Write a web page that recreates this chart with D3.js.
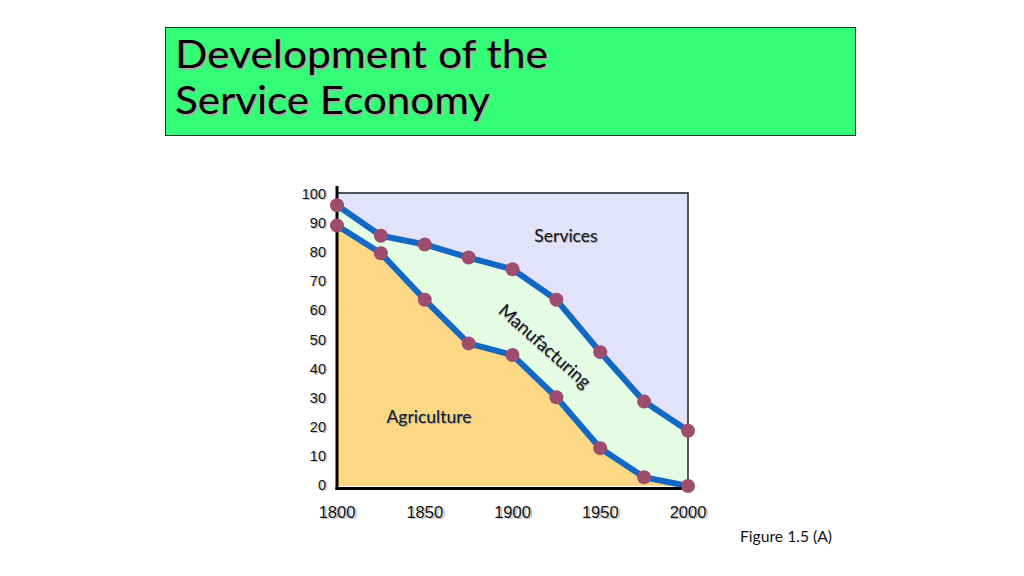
<!DOCTYPE html>
<html><head><meta charset="utf-8">
<script src="https://cdn.jsdelivr.net/npm/d3@7"></script>
<style>html,body{margin:0;padding:0;background:#fff;}svg{display:block;}</style>
</head><body>
<svg id="c" width="1024" height="576"></svg>
<script>
const years = [1800, 1825, 1850, 1875, 1900, 1925, 1950, 1975, 2000];
const agriculture = [89.5, 80, 64, 49, 45, 30.5, 13, 3, 0];
const agriManuf = [96.5, 86, 83, 78.5, 74.5, 64, 46, 29, 19];
const xTicks = [1800, 1850, 1900, 1950, 2000];
const yTicks = [0, 10, 20, 30, 40, 50, 60, 70, 80, 90, 100];
const titleLines = ["Development of the", "Service Economy"];
const titleWidths = [373, 315];
const areaLabels = ["Services", "Manufacturing", "Agriculture"];
const caption = "Figure 1.5 (A)";

const svg = d3.select("#c");
const x = d3.scaleLinear().domain([1800, 2000]).range([337, 688]);
const y = d3.scaleLinear().domain([0, 100]).range([486, 195]);
const F = "Lato, 'Open Sans', sans-serif";

// title box
svg.append("rect").attr("x", 165.5).attr("y", 27.5).attr("width", 690).attr("height", 108)
  .attr("fill", "#33fd77").attr("stroke", "#1d3a26").attr("stroke-width", 1);
titleLines.forEach((t, i) => {
  [["#a8a8a8", 1.5], ["#000", 0]].forEach(([c, o]) => {
    svg.append("text").attr("x", 175 + o).attr("y", 68 + i * 46 + o).attr("font-family", F).attr("font-size", 38)
      .attr("textLength", titleWidths[i]).attr("lengthAdjust", "spacingAndGlyphs")
      .attr("fill", c).text(t);
  });
});

const data = years.map((yr, i) => ({yr, a: agriculture[i], m: agriManuf[i]}));

// services area (background)
svg.append("rect").attr("x", x(1800)).attr("y", y(100) - 2).attr("width", x(2000) - x(1800))
  .attr("height", y(0) - y(100) + 2).attr("fill", "#e2e2fb");
// manufacturing
svg.append("path").datum(data).attr("fill", "#e3fce3")
  .attr("d", d3.area().x(d => x(d.yr)).y0(d => y(d.a)).y1(d => y(d.m)));
// agriculture
svg.append("path").datum(data).attr("fill", "#fdd884")
  .attr("d", d3.area().x(d => x(d.yr)).y0(y(0)).y1(d => y(d.a)));

// frame top and right
svg.append("path").attr("d", `M${x(1800)},${y(100) - 2}H${x(2000)}V${y(0)}`)
  .attr("fill", "none").attr("stroke", "#222").attr("stroke-width", 1.5);

// lines
const line = d3.line().x(d => d[0]).y(d => d[1]);
[ "a", "m" ].forEach(k => {
  svg.append("path").datum(data.map(d => [x(d.yr), y(d[k])])).attr("d", line)
    .attr("fill", "none").attr("stroke", "#1268c4").attr("stroke-width", 6).attr("stroke-linejoin", "round");
});

// axes
svg.append("line").attr("x1", x(1800)).attr("x2", x(1800)).attr("y1", 186).attr("y2", y(0) + 4)
  .attr("stroke", "#000").attr("stroke-width", 3);
svg.append("line").attr("x1", x(1800) - 1.5).attr("x2", x(2000) + 1).attr("y1", y(0) + 2.5).attr("y2", y(0) + 2.5)
  .attr("stroke", "#000").attr("stroke-width", 3);

// dots
["a", "m"].forEach(k => {
  svg.selectAll(null).data(data).enter().append("circle")
    .attr("cx", d => x(d.yr)).attr("cy", d => y(d[k])).attr("r", 7)
    .attr("fill", "#9d4d6e");
});

// tick labels
const AF = "Arial, 'Liberation Sans', Arimo, Helvetica, sans-serif";
yTicks.forEach(t => {
  svg.append("text").attr("x", 326.5).attr("y", y(t) - 1).attr("dy", "0.35em").attr("text-anchor", "end")
    .attr("font-family", AF).attr("font-size", 14.5).attr("fill", "#c4c4c4").attr("transform", "translate(1,1)").text(t);
  svg.append("text").attr("x", 326).attr("y", y(t) - 1).attr("dy", "0.35em").attr("text-anchor", "end")
    .attr("font-family", AF).attr("font-size", 14.5).attr("fill", "#111").text(t);
});
xTicks.forEach(t => {
  svg.append("text").attr("x", x(t) + 1).attr("y", 512).attr("dy", "0.35em").attr("text-anchor", "middle")
    .attr("font-family", AF).attr("font-size", 16.5).attr("fill", "#c4c4c4").attr("transform", "translate(1,1)").text(t);
  svg.append("text").attr("x", x(t)).attr("y", 512).attr("dy", "0.35em").attr("text-anchor", "middle")
    .attr("font-family", AF).attr("font-size", 16.5).attr("fill", "#111").text(t);
});

// area labels
function lab(txt, cx, cy, rot, fs) {
  const g = svg.append("g").attr("transform", `translate(${cx},${cy}) rotate(${rot})`);
  g.append("text").attr("text-anchor", "middle").attr("dy", "0.35em").attr("font-family", F).attr("font-size", fs)
    .attr("fill", "#aaa").attr("transform", "translate(1,1)").text(txt);
  g.append("text").attr("text-anchor", "middle").attr("dy", "0.35em").attr("font-family", F).attr("font-size", fs)
    .attr("fill", "#111").text(txt);
}
lab(areaLabels[0], 566, 236, 0, 17.5);
lab(areaLabels[1], 545, 346, 41.5, 18);
lab(areaLabels[2], 429, 417, 0, 17.5);

svg.append("text").attr("x", 786).attr("y", 537).attr("dy", "0.35em").attr("text-anchor", "middle")
  .attr("font-family", F).attr("font-size", 15.7).attr("fill", "#111").text(caption);
</script>
</body></html>
